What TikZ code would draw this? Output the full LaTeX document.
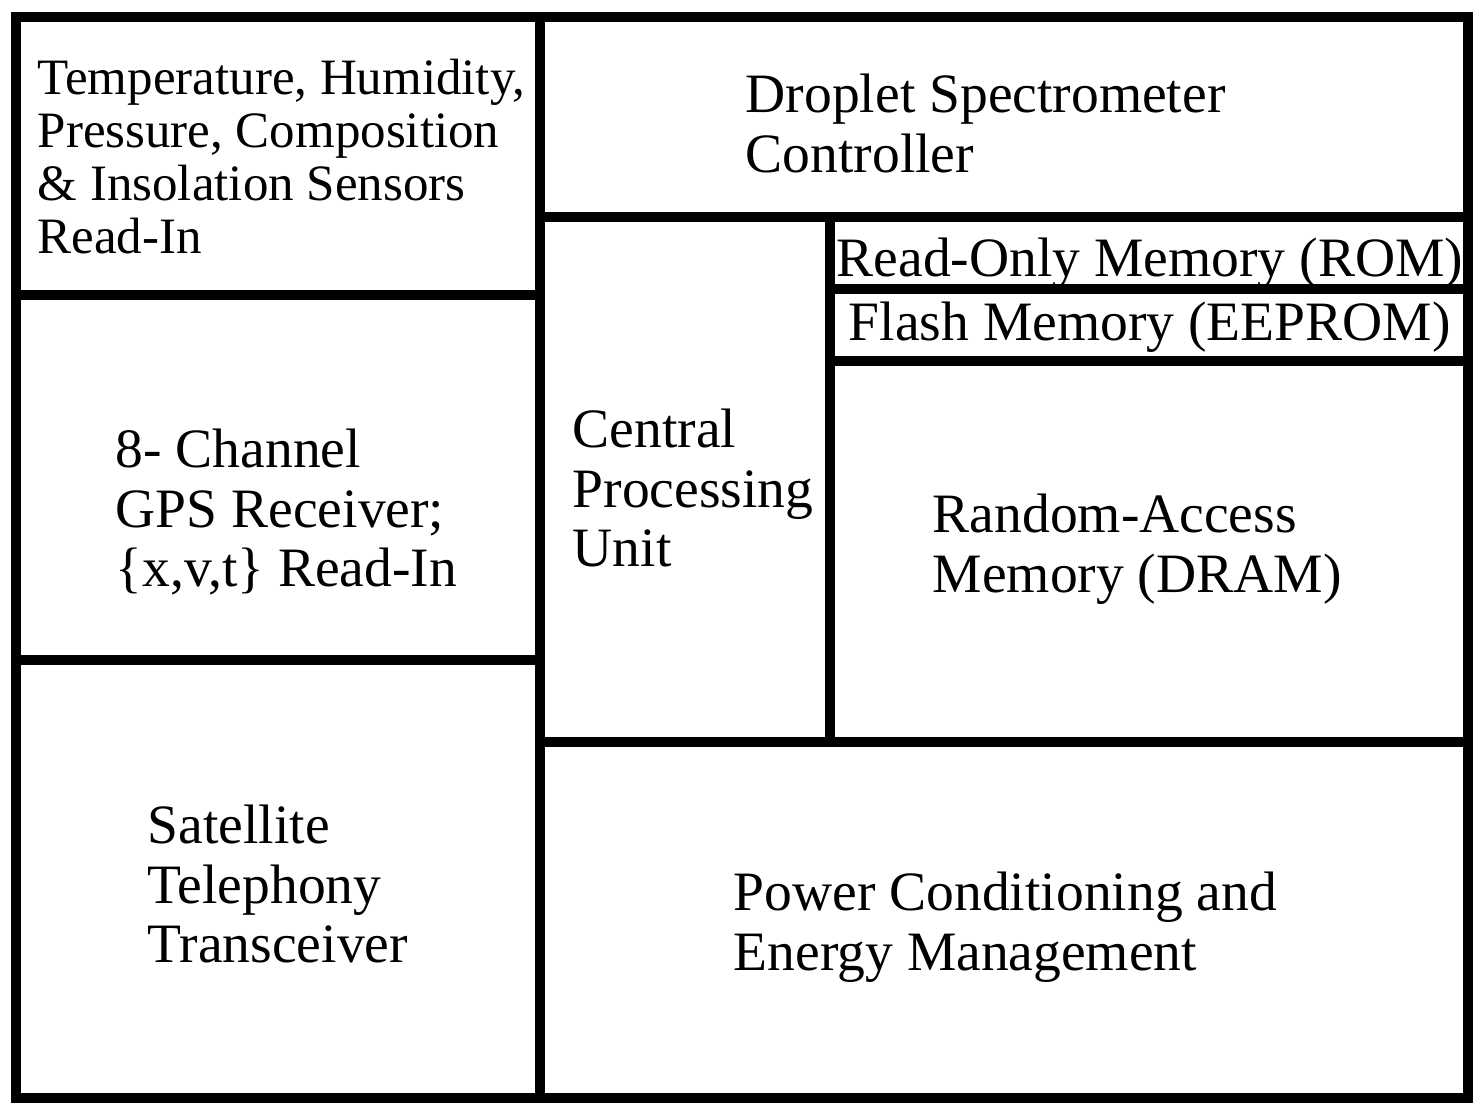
\documentclass[tikz,border=0pt]{standalone}
\usepackage{fontspec}
\setmainfont{Liberation Serif}
\usetikzlibrary{positioning}
\tikzstyle{frame} = [draw, line width=0.1cm]
\tikzstyle{btext} = [anchor=north west, inner sep=0pt, align=left, font=\fontsize{15.8}{17}\selectfont]
\tikzstyle{stext} = [btext, font=\fontsize{14.5}{15.1}\selectfont]

\begin{document}
\begin{tikzpicture}[x=0.01cm, y=-0.01cm]
\useasboundingbox (0,0) rectangle (1482,1105);

\path [frame] (16,17) rectangle (1468,1098);
\path [frame] (540,17) -- (540,1098);
\path [frame] (16,295) -- (540,295);
\path [frame] (16,660) -- (540,660);
\path [frame] (540,217) -- (1468,217);
\path [frame] (830,217) -- (830,742);
\path [frame] (830,289) -- (1468,289);
\path [frame] (830,361) -- (1468,361);
\path [frame] (540,742) -- (1468,742);

\node [stext] (sensors) at (37,58) {Temperature, Humidity,\\Pressure, Composition\\\& Insolation Sensors\\Read-In};
\node [btext] (droplet) at (745,73) {Droplet Spectrometer\\Controller};
\node [btext] (cpu) at (572,408) {Central\\Processing\\Unit};
\node [btext] (rom) at (836,237) {Read-Only Memory (ROM)};
\node [btext] (flash) at (848,301) {Flash Memory (EEPROM)};
\node [btext] (dram) at (932,493) {Random-Access\\Memory (DRAM)};
\node [btext] (gps) at (115,428) {8- Channel\\GPS Receiver;\\\{x,v,t\} Read-In};
\node [btext] (sat) at (147,804) {Satellite\\Telephony\\Transceiver};
\node [btext] (power) at (733,871) {Power Conditioning and\\Energy Management};
\end{tikzpicture}
\end{document}
